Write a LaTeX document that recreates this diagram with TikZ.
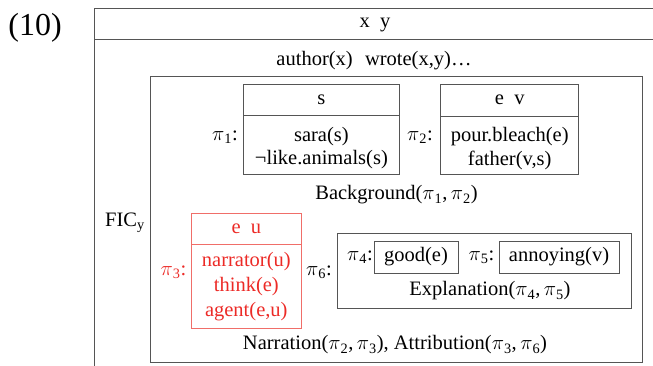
\documentclass[tikz,border=0pt]{standalone}
\usepackage{fontspec}
\setmainfont{Liberation Serif}
\newcommand\mypi[1]{$\pi$\textsubscript{#1}}
\definecolor{drsred}{RGB}{236,42,38}
\definecolor{drsredline}{RGB}{240,110,105}
\definecolor{lineg}{RGB}{85,85,85}
\tikzset{
  txt/.style={inner sep=0pt, font=\fontsize{20.5}{24}\selectfont},
  boxline/.style={draw=lineg, line width=0.9pt},
  redline/.style={draw=drsredline, line width=0.9pt},
  redtxt/.style={txt, text=drsred}
}
\begin{document}
\begin{tikzpicture}[x=1pt,y=-1pt]
\useasboundingbox (0,0) rectangle (653,365);
\clip (0,0) rectangle (653,365);
% example number
\node[inner sep=0pt, font=\fontsize{32}{36}\selectfont] (num) at (35,28) {(10)};
% outer DRS (cropped)
\draw[boxline] (670,8.5) -- (94,8.5) -- (94,380);
\draw[boxline] (94,39.7) -- (670,39.7);
\node[txt] (xy) at (375,25) {x\enspace y};
\node[txt] (auth) at (374,61) {author(x)\hspace{0.6em}wrote(x,y)\ldots};
% FIC
\node[txt, anchor=base west] (fic) at (105,226) {FIC\textsubscript{y}};
\draw[boxline] (150.3,76.5) rectangle (642,362.7);
% pi1 box
\draw[boxline] (243.5,84.3) rectangle (399.3,174.3);
\draw[boxline] (243.5,115.8) -- (399.3,115.8);
\node[txt] (p1) at (225,137) {\mypi{1}:};
\node[txt] (s) at (321.4,100) {s};
\node[txt] (sara) at (321.4,137) {sara(s)};
\node[txt] (like) at (321.4,160) {¬like.animals(s)};
% pi2 box
\draw[boxline] (440.7,84.3) rectangle (578.7,174.3);
\draw[boxline] (440.7,116) -- (578.7,116);
\node[txt] (p2) at (420,137) {\mypi{2}:};
\node[txt] (ev) at (509.7,100) {e\enspace v};
\node[txt] (pour) at (509.7,137) {pour.bleach(e)};
\node[txt] (father) at (509.7,160) {father(v,s)};
\node[txt] (bg) at (396.5,195) {Background(\mypi{1},\,\mypi{2})};
% pi3 red box
\draw[redline] (191,213.3) rectangle (301.7,328.3);
\draw[redline] (191,244) -- (301.7,244);
\node[redtxt] (p3) at (173.5,272) {\mypi{3}:};
\node[redtxt] (eu) at (246.3,228.5) {e\enspace u};
\node[redtxt] (narr) at (246.3,262) {narrator(u)};
\node[redtxt] (think) at (246.3,287) {think(e)};
\node[redtxt] (agent) at (246.3,312) {agent(e,u)};
% pi6 box
\node[txt] (p6) at (319,272) {\mypi{6}:};
\draw[boxline] (337.3,233.3) rectangle (631.7,308.3);
\node[txt] (p4) at (360,257) {\mypi{4}:};
\draw[boxline] (374,241) rectangle (458,273);
\node[txt] (good) at (416,257) {good(e)};
\node[txt] (p5) at (481.5,257) {\mypi{5}:};
\draw[boxline] (499,241) rectangle (619,273);
\node[txt] (ann) at (559,257) {annoying(v)};
\node[txt] (expl) at (490,291) {Explanation(\mypi{4},\,\mypi{5})};
\node[txt] (narration) at (395,345) {Narration(\mypi{2},\,\mypi{3}), Attribution(\mypi{3},\,\mypi{6})};
\end{tikzpicture}
\end{document}
